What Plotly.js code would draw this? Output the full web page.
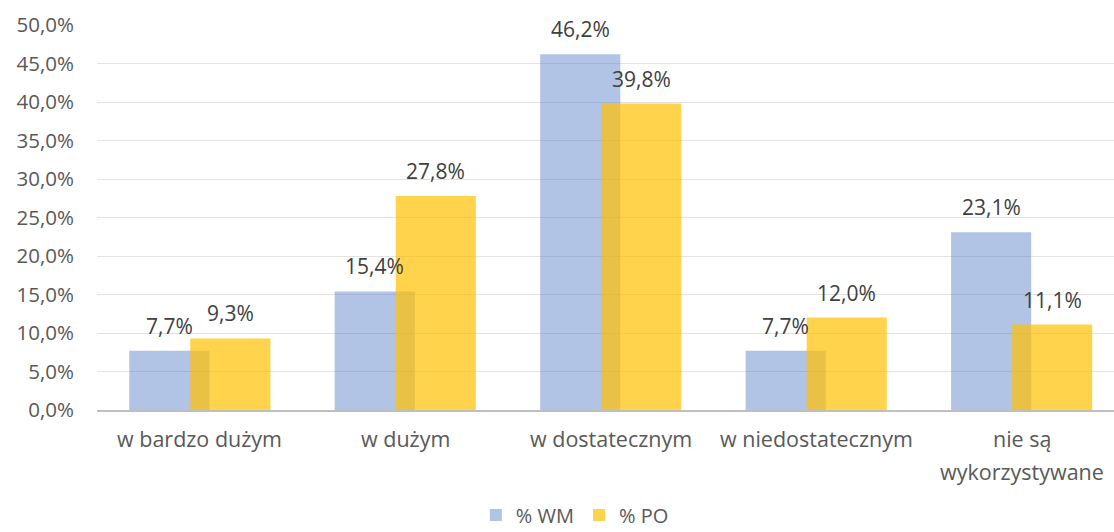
<!DOCTYPE html>
<html><head><meta charset="utf-8">
<script src="https://cdn.plot.ly/plotly-3.0.1.min.js"></script>
<style>html,body{margin:0;padding:0;background:#fff}#chart{width:1114px;height:532px}</style>
</head><body><div id="chart"></div>
<script>
const categories = ["w bardzo dużym", "w dużym", "w dostatecznym", "w niedostatecznym", "nie są<br>wykorzystywane"];
const seriesNames = ["% WM", "% PO"];
const wmValues = [7.7, 15.4, 46.2, 7.7, 23.1];
const poValues = [9.3, 27.8, 39.8, 12.0, 11.1];
const yTicks = [0, 5, 10, 15, 20, 25, 30, 35, 40, 45, 50];

const fmt = v => v.toFixed(1).replace('.', ',') + '%';
const idx = categories.map((c, i) => i);
const BW = 0.39, OFF_WM = -0.343, OFF_PO = -0.046;
const FONT = '"Open Sans", "Noto Sans", sans-serif';

const traces = [
  {type: 'bar', name: seriesNames[0], x: idx, y: wmValues, width: BW, offset: OFF_WM,
   marker: {color: 'rgba(68,114,196,0.42)'}, hoverinfo: 'skip'},
  {type: 'bar', name: seriesNames[1], x: idx, y: poValues, width: BW, offset: OFF_PO,
   marker: {color: 'rgba(255,192,0,0.70)'}, hoverinfo: 'skip'}
];

const annotations = [];
[[wmValues, OFF_WM], [poValues, OFF_PO]].forEach(([vals, off]) => {
  vals.forEach((v, i) => annotations.push({
    x: i + off + BW / 2, y: v, xref: 'x', yref: 'y', text: fmt(v), showarrow: false,
    yanchor: 'middle', yshift: 25, font: {family: FONT, size: 21, color: '#404040'}
  }));
});
categories.forEach((c, i) => {
  c.split('<br>').forEach((line, j) => annotations.push({
    x: i, y: 0, xref: 'x', yref: 'y', text: line, showarrow: false,
    yanchor: 'middle', yshift: -28 - 33 * j, font: {family: FONT, size: 21.5, color: '#595959'}
  }));
});

const layout = {
  width: 1114, height: 532,
  margin: {l: 97, r: 0, t: 25, b: 122},
  paper_bgcolor: '#fff', plot_bgcolor: '#fff',
  barmode: 'overlay',
  separators: ',.',
  showlegend: true,
  legend: {orientation: 'h', xref: 'container', yref: 'container', x: 0.516, xanchor: 'center',
           y: 0.032, yanchor: 'middle', font: {family: FONT, size: 20, color: '#595959'},
           itemwidth: 30, traceorder: 'normal'},
  xaxis: {type: 'linear', range: [-0.5, 4.45], showticklabels: false, showgrid: false,
          zeroline: false, showline: true, linecolor: '#BFBFBF', linewidth: 2, ticks: ''},
  yaxis: {range: [0, 50], tickvals: yTicks, ticktext: yTicks.map(fmt), showgrid: true,
          gridcolor: '#E3E3E3', gridwidth: 1, zeroline: false, showline: false, ticks: '',
          ticklabelstandoff: 22, tickfont: {family: FONT, size: 20.5, color: '#595959'}},
  annotations: annotations
};
Plotly.newPlot('chart', traces, layout, {displayModeBar: false, staticPlot: true});
</script></body></html>
